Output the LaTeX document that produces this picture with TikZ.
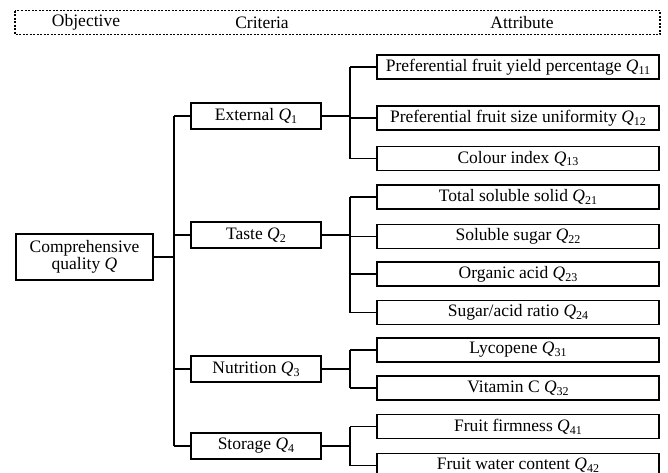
\documentclass[tikz,border=0pt]{standalone}
\usepackage{fontspec}
\setmainfont{Liberation Serif}
\newcommand{\Qs}[1]{\textit{Q}\raisebox{-0.35ex}{\fontsize{12}{12}\selectfont #1}}
\begin{document}
\begin{tikzpicture}[x=1pt,y=-1pt,
  every node/.style={font=\fontsize{17.5}{19}\selectfont},
  attbox/.style={draw,line width=1.6pt,minimum width=282pt,minimum height=24pt,inner sep=0pt},
  critbox/.style={draw,line width=1.6pt,minimum width=130pt,minimum height=26pt,inner sep=0pt},
  rootbox/.style={draw,line width=1.6pt,minimum width=137pt,minimum height=46pt,inner sep=0pt,align=center},
  conn/.style={line width=1.3pt},
  head/.style={anchor=center}]
\useasboundingbox (0,0) rectangle (668,472);
% header
\draw[line width=1.1pt,dash pattern=on 2pt off 1.5pt] (15,10.5) rectangle (660,34.5);
\node[head] (hobj) at (86,22.5) {Objective};
\node[head] (hcri) at (262,22.5) {Criteria};
\node[head] (hatt) at (522,22.5) {Attribute};
% root
\node[rootbox] (root) at (84.5,257) {Comprehensive\\[-2pt]quality \textit{Q}};
% criteria
\node[critbox] (ext) at (256,116) {External \Qs{1}};
\node[critbox] (taste) at (256,235) {Taste \Qs{2}};
\node[critbox] (nutr) at (256,369) {Nutrition \Qs{3}};
\node[critbox] (stor) at (256,446) {Storage \Qs{4}};
% attributes
\node[attbox] (q11) at (518,67) {Preferential fruit yield percentage \Qs{11}};
\node[attbox] (q12) at (518,118) {Preferential fruit size uniformity \Qs{12}};
\node[attbox] (q13) at (518,158.5) {Colour index \Qs{13}};
\node[attbox] (q21) at (518,197) {Total soluble solid \Qs{21}};
\node[attbox] (q22) at (518,236.5) {Soluble sugar \Qs{22}};
\node[attbox] (q23) at (518,274) {Organic acid \Qs{23}};
\node[attbox] (q24) at (518,312.5) {Sugar/acid ratio \Qs{24}};
\node[attbox] (q31) at (518,350) {Lycopene \Qs{31}};
\node[attbox] (q32) at (518,388) {Vitamin C \Qs{32}};
\node[attbox] (q41) at (518,426.5) {Fruit firmness \Qs{41}};
\node[attbox] (q42) at (518,465.5) {Fruit water content \Qs{42}};
% bus coordinates
\coordinate (b0) at (174,0);
\coordinate (b1) at (350,0);
% root to criteria
\draw[conn] (root.east) -- (root.east -| b0);
\draw[conn] (ext.west -| b0) -- (stor.west -| b0);
\foreach \c in {ext,taste,nutr,stor} \draw[conn] (\c.west) -- (\c.west -| b0);
% criteria to attributes
\draw[conn] (ext.east) -- (ext.east -| b1);
\draw[conn] (q11.west -| b1) -- (q13.west -| b1);
\draw[conn] (taste.east) -- (taste.east -| b1);
\draw[conn] (q21.west -| b1) -- (q24.west -| b1);
\draw[conn] (nutr.east) -- (nutr.east -| b1);
\draw[conn] (q31.west -| b1) -- (q32.west -| b1);
\draw[conn] (stor.east) -- (stor.east -| b1);
\draw[conn] (q41.west -| b1) -- (q42.west -| b1);
\foreach \c in {q11,q12,q13,q21,q22,q23,q24,q31,q32,q41,q42} \draw[conn] (\c.west) -- (\c.west -| b1);
\end{tikzpicture}
\end{document}
